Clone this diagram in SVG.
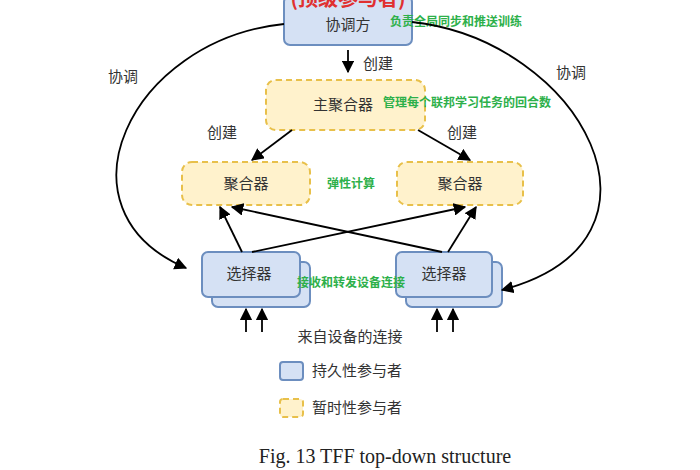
<svg xmlns="http://www.w3.org/2000/svg" width="700" height="470" viewBox="0 0 700 470">
<defs>
<marker id="ah" viewBox="0 0 10 10" refX="9" refY="5" markerWidth="7" markerHeight="7" orient="auto"><path d="M0,0 L10,5 L0,10 z" fill="#000"/></marker>
<style>
.blue{fill:#d5e1f4;stroke:#6c8ebf;stroke-width:2}
.yel{fill:#fff2cc;stroke:#e8c04a;stroke-width:2;stroke-dasharray:6 4}
.t{font-family:"Noto Sans CJK SC",sans-serif;font-size:15px;fill:#333;text-anchor:middle}
.g{font-family:"Noto Sans CJK SC",sans-serif;font-size:12px;font-weight:bold;fill:#2db04a}
.c{fill:none;stroke:#000;stroke-width:1.8;marker-end:url(#ah)}
</style>
</defs>
<rect width="700" height="470" fill="#fff"/>
<g id="coordinator">
<rect class="blue" x="284" y="-4" width="128" height="49" rx="6"/>
<text class="t" x="348" y="30">协调方</text>
<text x="348" y="6" font-family="Noto Sans CJK SC,sans-serif" font-size="20" font-weight="bold" fill="#e03030" text-anchor="middle">(顶级参与者)</text>
<text class="g" x="390" y="26">负责全局同步和推送训练</text>
</g>
<g id="main-aggregator">
<rect class="yel" x="266" y="80" width="159" height="50" rx="10"/>
<text class="t" x="343" y="110">主聚合器</text>
<text class="g" x="383" y="107">管理每个联邦学习任务的回合数</text>
</g>
<g id="agg-left"><rect class="yel" x="182" y="162" width="128" height="43" rx="10"/><text class="t" x="246" y="189">聚合器</text></g>
<g id="agg-right"><rect class="yel" x="397" y="162" width="126" height="43" rx="10"/><text class="t" x="460" y="189">聚合器</text></g>
<text class="g" x="327" y="188">弹性计算</text>
<g id="sel-left"><rect class="blue" x="212" y="262" width="98" height="45" rx="6"/><rect class="blue" x="202" y="252" width="98" height="45" rx="6"/><text class="t" x="249" y="279">选择器</text></g>
<g id="sel-right"><rect class="blue" x="406" y="262" width="96" height="45" rx="6"/><rect class="blue" x="396" y="252" width="96" height="45" rx="6"/><text class="t" x="444" y="279">选择器</text></g>
<text class="g" x="297" y="287">接收和转发设备连接</text>
<g id="connectors">
<path class="c" d="M284,24 C130,40 50,210 186,268"/>
<path class="c" d="M412,22 C580,40 690,240 502,290"/>
<path class="c" d="M348,50 L348,72"/>
<path class="c" d="M292,130 L252,160"/>
<path class="c" d="M418,130 L470,160"/>
<path class="c" d="M242,252 L220,207"/>
<path class="c" d="M252,252 L465,207"/>
<path class="c" d="M442,252 L232,207"/>
<path class="c" d="M448,252 L476,207"/>
<path class="c" d="M246,332 L246,309"/><path class="c" d="M262,332 L262,309"/>
<path class="c" d="M437,332 L437,309"/><path class="c" d="M453,332 L453,309"/>
</g>
<text class="t" x="123" y="82">协调</text>
<text class="t" x="571" y="78">协调</text>
<text class="t" x="378" y="69">创建</text>
<text class="t" x="222" y="138">创建</text>
<text class="t" x="462" y="138">创建</text>
<text class="t" x="350" y="342">来自设备的连接</text>
<g id="legend">
<rect class="blue" x="280" y="362" width="23" height="18" rx="3"/><text class="t" x="357" y="376">持久性参与者</text>
<rect class="yel" x="280" y="399" width="23" height="18" rx="3"/><text class="t" x="357" y="413">暂时性参与者</text>
</g>
<text x="385" y="463" font-family="Liberation Serif,serif" font-size="20" fill="#222" text-anchor="middle">Fig. 13 TFF top-down structure</text>
</svg>
